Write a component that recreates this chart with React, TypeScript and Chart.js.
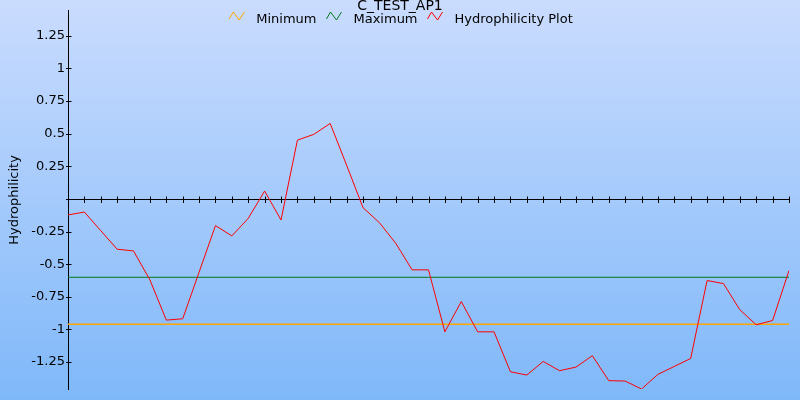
import React, { useEffect, useRef } from "react";
import { Chart, registerables } from "chart.js";

Chart.register(...registerables);

const chartTitle = "C_TEST_AP1";
const yAxisTitle = "Hydrophilicity";

// residue window positions (x categories)
const positions = [
  1, 2, 3, 4, 5, 6, 7, 8, 9, 10, 11, 12, 13, 14, 15, 16, 17, 18, 19, 20, 21, 22, 23,
  24, 25, 26, 27, 28, 29, 30, 31, 32, 33, 34, 35, 36, 37, 38, 39, 40, 41, 42, 43, 44, 45,
];

const hydrophilicity = [
  -0.122, -0.1, -0.243, -0.385, -0.398, -0.62, -0.928, -0.918, -0.561, -0.204, -0.283,
  -0.148, 0.061, -0.161, 0.451, 0.495, 0.579, 0.26, -0.066, -0.181, -0.339, -0.543,
  -0.543, -1.018, -0.786, -1.018, -1.018, -1.324, -1.349, -1.245, -1.316, -1.288,
  -1.201, -1.392, -1.395, -1.456, -1.344, -1.283, -1.222, -0.625, -0.648, -0.849,
  -0.964, -0.931, -0.548,
];

const minimumValue = -0.96;
const maximumValue = -0.6;

const yTickValues = [-1.25, -1, -0.75, -0.5, -0.25, 0, 0.25, 0.5, 0.75, 1, 1.25];
const yMin = -1.456;
const yMax = 1.442;

const seriesLabels = ["Minimum", "Maximum", "Hydrophilicity Plot"];
const seriesColors = ["#ffa500", "#007a1a", "#ff0000"];

const FONT = "DejaVu Sans";

const decorPlugin = {
  id: "decor",
  beforeDraw(chart: any) {
    const { ctx, width, height } = chart;
    const g = ctx.createLinearGradient(0, 0, 0, height);
    g.addColorStop(0, "#cadcfe");
    g.addColorStop(1, "#7fb8f9");
    ctx.save();
    ctx.fillStyle = g;
    ctx.fillRect(0, 0, width, height);
    ctx.restore();
  },
  beforeDatasetsDraw(chart: any) {
    const { ctx, chartArea, scales } = chart;
    const x = scales.x;
    const y = scales.y;
    ctx.save();
    ctx.strokeStyle = "#000";
    ctx.lineWidth = 1;
    const y0 = Math.round(y.getPixelForValue(0)) + 0.5;
    ctx.beginPath();
    ctx.moveTo(chartArea.left, y0);
    ctx.lineTo(chartArea.right, y0);
    for (const p of positions) {
      const px = Math.round(x.getPixelForValue(p)) + 0.5;
      ctx.moveTo(px, y0 - 3);
      ctx.lineTo(px, y0 + 3.5);
    }
    const lx = Math.round(chartArea.left) + 0.5;
    for (const v of yTickValues) {
      const py = Math.round(y.getPixelForValue(v)) + 0.5;
      ctx.moveTo(lx - 2.5, py);
      ctx.lineTo(lx + 3, py);
    }
    ctx.stroke();
    ctx.restore();
  },
  afterDraw(chart: any) {
    const { ctx } = chart;
    ctx.save();
    ctx.fillStyle = "#000";
    ctx.font = `14px "${FONT}"`;
    ctx.textAlign = "center";
    ctx.textBaseline = "alphabetic";
    ctx.fillText(chartTitle, 400, 10);

    ctx.font = `13px "${FONT}"`;
    const iconW = 16;
    const iconGap = 11;
    const itemGap = 10;
    const datasets = chart.data.datasets;
    const widths = datasets.map((d: any) => ctx.measureText(d.label).width);
    let total = 0;
    widths.forEach((w: number, i: number) => {
      total += iconW + iconGap + w + (i < widths.length - 1 ? itemGap : 0);
    });
    let cx = 401 - total / 2;
    const baseY = 23;
    ctx.textAlign = "left";
    datasets.forEach((d: any, i: number) => {
      ctx.strokeStyle = d.borderColor;
      ctx.lineWidth = 1;
      ctx.beginPath();
      ctx.moveTo(cx, 19);
      ctx.lineTo(cx + 4, 12);
      ctx.lineTo(cx + 10, 20);
      ctx.lineTo(cx + 15, 12);
      ctx.stroke();
      cx += iconW + iconGap;
      ctx.fillStyle = "#000";
      ctx.fillText(d.label, cx, baseY);
      cx += widths[i] + itemGap;
    });
    ctx.restore();
  },
};

export default function App() {
  const canvasRef = useRef<HTMLCanvasElement | null>(null);

  useEffect(() => {
    document.body.style.margin = "0";
    const canvas = canvasRef.current;
    if (!canvas) return;
    const first = positions[0];
    const last = positions[positions.length - 1];
    const chart = new Chart(canvas, {
      type: "line",
      data: {
        datasets: [
          {
            label: seriesLabels[0],
            data: [
              { x: first, y: minimumValue },
              { x: last, y: minimumValue },
            ],
            borderColor: seriesColors[0],
            borderWidth: 1.6,
            pointRadius: 0,
            order: 2,
          },
          {
            label: seriesLabels[1],
            data: [
              { x: first, y: maximumValue },
              { x: last, y: maximumValue },
            ],
            borderColor: seriesColors[1],
            borderWidth: 1,
            pointRadius: 0,
            order: 1,
          },
          {
            label: seriesLabels[2],
            data: positions.map((p, i) => ({ x: p, y: hydrophilicity[i] })),
            borderColor: seriesColors[2],
            borderWidth: 1,
            pointRadius: 0,
            tension: 0,
            order: 0,
          },
        ],
      },
      options: {
        responsive: false,
        animation: false,
        events: [],
        layout: { padding: { top: 10, right: 11, bottom: 11, left: 0 } },
        plugins: {
          legend: { display: false },
          title: { display: false },
          tooltip: { enabled: false },
        },
        scales: {
          x: {
            type: "linear",
            display: false,
            min: first,
            max: last,
          },
          y: {
            type: "linear",
            min: yMin,
            max: yMax,
            afterBuildTicks: (scale: any) => {
              scale.ticks = yTickValues.map((v) => ({ value: v }));
            },
            afterFit: (scale: any) => {
              scale.width = 68;
            },
            grid: { display: true, drawOnChartArea: false, drawTicks: false },
            border: { display: true, color: "#000", width: 1 },
            ticks: {
              padding: 3,
              color: "#000",
              font: { family: FONT, size: 13 },
              callback: (v: any) => (Number(v) === 0 ? "" : String(v)),
            },
            title: {
              display: true,
              text: yAxisTitle,
              color: "#000",
              font: { family: FONT, size: 13 },
              padding: 7,
            },
          },
        },
      },
      plugins: [decorPlugin],
    });
    return () => chart.destroy();
  }, []);

  return (
    <div style={{ width: 800, height: 400 }}>
      <canvas ref={canvasRef} width={800} height={400} style={{ display: "block" }} />
    </div>
  );
}
